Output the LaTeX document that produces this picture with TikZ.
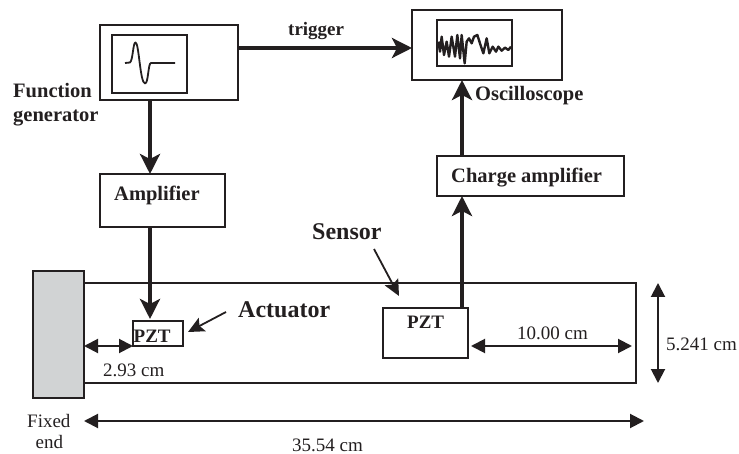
\documentclass[tikz,border=0pt]{standalone}
\usepackage{fontspec}
\setmainfont{Liberation Serif}
\usetikzlibrary{arrows.meta}
\definecolor{ink}{HTML}{231F20}
\definecolor{wall}{HTML}{D1D3D4}
\tikzset{
  box/.style={draw=ink,line width=1.8pt,inner sep=0pt,outer sep=0pt,anchor=north west},
  lbl/.style={anchor=base west,inner sep=0pt,text=ink,font=\fontsize{20.5}{24}\selectfont\bfseries},
  lblbig/.style={lbl,font=\fontsize{24}{28}\selectfont\bfseries},
  dimtxt/.style={anchor=base west,inner sep=0pt,text=ink,font=\fontsize{19}{22}\selectfont},
  heavy/.style={draw=ink,line width=4.5pt,-{Stealth[length=20pt,width=20pt,inset=5pt]}},
  thin arrow/.style={draw=ink,line width=1.8pt,-{Stealth[length=16pt,width=15pt,inset=3pt]}},
  dimline/.style={draw=ink,line width=2pt,{Stealth[length=14pt,width=14pt,inset=0pt]}-{Stealth[length=14pt,width=14pt,inset=0pt]}},
  wave/.style={draw=ink,line width=1.8pt,line join=round},
}
\begin{document}
\begin{tikzpicture}[x=1pt,y=-1pt]
\useasboundingbox (0,0) rectangle (739,454);
% beam and wall
\node[box,minimum width=552pt,minimum height=100pt] (beam) at (84,283) {};
\node[box,fill=wall,minimum width=51pt,minimum height=127pt] (wall) at (33,271) {};
% boxes
\node[box,minimum width=138pt,minimum height=75pt] (fg) at (100,25) {};
\node[box,minimum width=75pt,minimum height=58pt] (fgscreen) at (112,35) {};
\node[box,minimum width=150pt,minimum height=70pt] (osc) at (412,10) {};
\node[box,minimum width=75pt,minimum height=46pt] (oscscreen) at (437,20) {};
\node[box,minimum width=125pt,minimum height=53pt] (amp) at (100,174) {};
\node[box,minimum width=187pt,minimum height=40pt] (charge) at (437,156) {};
\node[box,minimum width=50pt,minimum height=25pt] (pzta) at (133,321) {};
\node[box,minimum width=85pt,minimum height=50pt] (pzts) at (383,308) {};
% labels
\node[lbl] (tfunction) at (13,98) {Function};
\node[lbl] (tgenerator) at (13,122) {generator};
\node[lbl,font=\fontsize{19}{22}\selectfont\bfseries] (ttrigger) at (288,36) {trigger};
\node[lbl] (tosc) at (475,101) {Oscilloscope};
\node[lbl] (tamp) at (114,201) {Amplifier};
\node[lbl] (tcharge) at (451,183) {Charge amplifier};
\node[lblbig] (tsensor) at (312,240) {Sensor};
\node[lblbig] (tactuator) at (238,318) {Actuator};
\node[lbl,font=\fontsize{19}{22}\selectfont\bfseries] (tpzta) at (133.5,342) {PZT};
\node[lbl,font=\fontsize{19}{22}\selectfont\bfseries] (tpzts) at (407,328) {PZT};
\node[dimtxt] (d293) at (103,376) {2.93 cm};
\node[dimtxt] (d1000) at (517,339) {10.00 cm};
\node[dimtxt] (d5241) at (666,351) {5.241 cm};
\node[dimtxt] (d3554) at (292,451) {35.54 cm};
\node[dimtxt] (tfixed) at (27,427) {Fixed};
\node[dimtxt] (tend) at (35.5,448) {end};
% connectors
\coordinate (xa) at (150,0);
\coordinate (xs) at (462,0);
\coordinate (ytrig) at (0,48);
\draw[heavy] (xa |- fg.south) -- (xa |- amp.north);
\draw[heavy] (xa |- amp.south) -- ([yshift=2pt]xa |- pzta.north);
\draw[heavy] (fg.east |- ytrig) -- (osc.west |- ytrig);
\draw[heavy] (xs |- charge.north) -- (xs |- osc.south);
\draw[heavy] (xs |- pzts.north) -- (xs |- charge.south);
% callouts
\coordinate (sensorfrom) at (374,249);
\coordinate (sensortip) at (399,296);
\coordinate (actfrom) at (226,312);
\coordinate (acttip) at (188,332);
\draw[thin arrow] (sensorfrom) -- (sensortip);
\draw[thin arrow] (actfrom) -- (acttip);
% dimensions
\coordinate (ymid) at (0,346);
\coordinate (ylong) at (0,421);
\coordinate (xh) at (658,0);
\coordinate (l1000) at (471,346);
\coordinate (r1000) at (632,346);
\coordinate (r3554) at (644,421);
\draw[dimline] (wall.east |- ymid) -- (pzta.south west);
\draw[dimline] (l1000) -- (r1000);
\draw[dimline] (wall.east |- ylong) -- (r3554);
\draw[dimline] (xh |- beam.north) -- (xh |- beam.south);
% traces
\draw[wave] (125,63) -- (130,62.5) .. controls (133,60) and (133,42.5) .. (135.5,42.5)
  .. controls (139,42.5) and (140,83) .. (145,83.5)
  .. controls (148.5,83.5) and (148,63) .. (151,63) -- (175,63);
\begin{scope}[shift={(370,0)},x=0.33333pt,y=-0.33333pt]
\draw[wave,line width=2.4pt] (205,125) -- (210,155) -- (215,110) -- (222,165) -- (230,125) -- (237,170) -- (245,110) -- (255,170) -- (262,105) -- (270,175) -- (275,105) -- (284,190) -- (290,125) -- (297,115) -- (305,130) -- (312,110) -- (322,105) -- (330,130) -- (340,160) -- (350,115) -- (358,160) -- (368,140) -- (378,155) -- (385,140) -- (395,152) -- (405,143) -- (415,150) -- (423,140);
\end{scope}
\end{tikzpicture}
\end{document}
